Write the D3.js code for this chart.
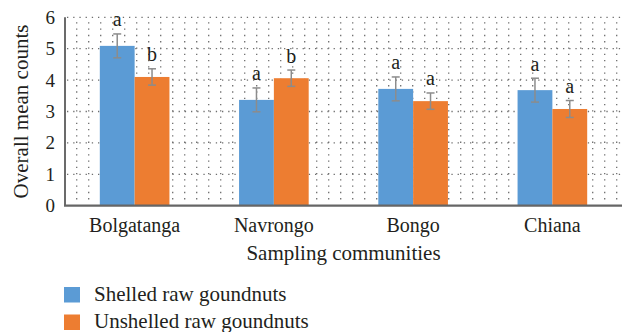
<!DOCTYPE html>
<html>
<head>
<meta charset="utf-8">
<script src="https://cdn.jsdelivr.net/npm/d3@7/dist/d3.min.js"></script>
<style>
  html, body { margin: 0; padding: 0; background: #fff; }
  svg { display: block; }
  text { font-family: "Liberation Serif", "Times New Roman", serif; fill: #231f20; }
</style>
</head>
<body>
<svg id="chart" width="627" height="332"></svg>
<script>
// Communities sampled and the mean counts per groundnut type
const communities = ["Bolgatanga", "Navrongo", "Bongo", "Chiana"];
const seriesNames = ["Shelled raw goundnuts", "Unshelled raw goundnuts"];
const shelledMeans = [5.09, 3.37, 3.72, 3.68];
const unshelledMeans = [4.10, 4.06, 3.33, 3.08];
const shelledErr = [0.38, 0.38, 0.38, 0.38];
const unshelledErr = [0.26, 0.26, 0.26, 0.27];
const shelledLetters = ["a", "a", "a", "a"];
const unshelledLetters = ["b", "b", "a", "a"];
const yTicks = [0, 1, 2, 3, 4, 5, 6];
const colors = ["#5B9BD5", "#ED7D31"];

const svg = d3.select("#chart");
const plotLeft = 65, plotRight = 622, plotTop = 17.3, plotBottom = 205.7;

const x0 = d3.scaleBand().domain(communities).range([plotLeft, plotRight]).paddingInner(0).paddingOuter(0);
const x1 = d3.scaleBand().domain(seriesNames).range([x0.bandwidth() * 0.25, x0.bandwidth() * 0.75]).padding(0);
const y = d3.scaleLinear().domain([0, 6]).range([plotBottom, plotTop]);

// Vertical dotted pattern lines in the plot area
const dotStep = (y(0) - y(1)) / 5;
const colXs = d3.range(plotLeft + 11.7, plotRight - 3, 12);
svg.append("g").selectAll("line").data(colXs).join("line")
  .attr("x1", d => d).attr("x2", d => d)
  .attr("y1", y(0) - dotStep).attr("y2", y(6))
  .attr("stroke", "#6e6e6e").attr("stroke-width", 1.3)
  .attr("stroke-dasharray", `1.3 ${dotStep - 1.3}`);

// Horizontal dotted gridlines at each integer
svg.append("g").selectAll("line").data(yTicks.filter(t => t > 0)).join("line")
  .attr("x1", plotLeft + 2).attr("x2", plotRight)
  .attr("y1", d => y(d)).attr("y2", d => y(d))
  .attr("stroke", "#6e6e6e").attr("stroke-width", 1.3)
  .attr("stroke-dasharray", "1.3 4.9");

// Rows of bars grouped by community
const rows = communities.map((c, i) => ({
  community: c,
  bars: [
    { s: seriesNames[0], v: shelledMeans[i], e: shelledErr[i], l: shelledLetters[i], c: colors[0] },
    { s: seriesNames[1], v: unshelledMeans[i], e: unshelledErr[i], l: unshelledLetters[i], c: colors[1] }
  ]
}));

const groups = svg.append("g").selectAll("g").data(rows).join("g")
  .attr("transform", d => `translate(${x0(d.community)},0)`);

groups.selectAll("rect").data(d => d.bars).join("rect")
  .attr("x", d => x1(d.s)).attr("width", x1.bandwidth())
  .attr("y", d => y(d.v)).attr("height", d => y(0) - y(d.v))
  .attr("fill", d => d.c);

// Error bars
const capW = 4;
const eb = groups.selectAll("g.err").data(d => d.bars).join("g").attr("class", "err")
  .attr("stroke", "#8c8c8c").attr("stroke-width", 1.5);
eb.append("line")
  .attr("x1", d => x1(d.s) + x1.bandwidth() / 2).attr("x2", d => x1(d.s) + x1.bandwidth() / 2)
  .attr("y1", d => y(d.v + d.e)).attr("y2", d => y(d.v - d.e));
eb.append("line")
  .attr("x1", d => x1(d.s) + x1.bandwidth() / 2 - capW).attr("x2", d => x1(d.s) + x1.bandwidth() / 2 + capW)
  .attr("y1", d => y(d.v + d.e)).attr("y2", d => y(d.v + d.e));
eb.append("line")
  .attr("x1", d => x1(d.s) + x1.bandwidth() / 2 - capW).attr("x2", d => x1(d.s) + x1.bandwidth() / 2 + capW)
  .attr("y1", d => y(d.v - d.e)).attr("y2", d => y(d.v - d.e));

// Significance letters
groups.selectAll("text.sig").data(d => d.bars).join("text").attr("class", "sig")
  .attr("x", d => x1(d.s) + x1.bandwidth() / 2)
  .attr("y", d => y(d.v + d.e) - 7.5)
  .attr("text-anchor", "middle").attr("font-size", 20)
  .text(d => d.l);

// Axis lines
svg.append("line").attr("x1", plotLeft).attr("x2", plotLeft).attr("y1", y(6)).attr("y2", y(0))
  .attr("stroke", "#3a3a3a").attr("stroke-width", 1.5);
svg.append("line").attr("x1", plotLeft - 1).attr("x2", plotRight).attr("y1", y(0)).attr("y2", y(0))
  .attr("stroke", "#666").attr("stroke-width", 2.2);

// Y tick labels
const yAxis = d3.axisLeft(y).tickValues(yTicks).tickSize(0).tickPadding(10).tickFormat(d3.format("d"));
const ya = svg.append("g").attr("transform", `translate(${plotLeft},0)`).call(yAxis);
ya.select(".domain").remove();
ya.selectAll("text").attr("font-size", 19).attr("font-family", "Liberation Serif").attr("fill", "#231f20");

// X category labels
const xAxis = d3.axisBottom(x0).tickSize(0).tickPadding(12);
const xa = svg.append("g").attr("transform", `translate(0,${y(0)})`).call(xAxis);
xa.select(".domain").remove();
xa.selectAll("text").attr("font-size", 20).attr("font-family", "Liberation Serif").attr("fill", "#231f20");

// Axis titles
svg.append("text").attr("x", (plotLeft + plotRight) / 2).attr("y", 260)
  .attr("text-anchor", "middle").attr("font-size", 21).text("Sampling communities");
svg.append("text").attr("transform", `translate(28,${(plotTop + plotBottom) / 2}) rotate(-90)`)
  .attr("text-anchor", "middle").attr("font-size", 21).text("Overall mean counts");

// Legend
const legend = svg.append("g").selectAll("g").data(seriesNames).join("g")
  .attr("transform", (d, i) => `translate(64,${287 + i * 27.5})`);
legend.append("rect").attr("width", 16).attr("height", 15.5).attr("fill", (d, i) => colors[i]);
legend.append("text").attr("x", 30).attr("y", 13.5).attr("font-size", 21).text(d => d);
</script>
</body>
</html>
